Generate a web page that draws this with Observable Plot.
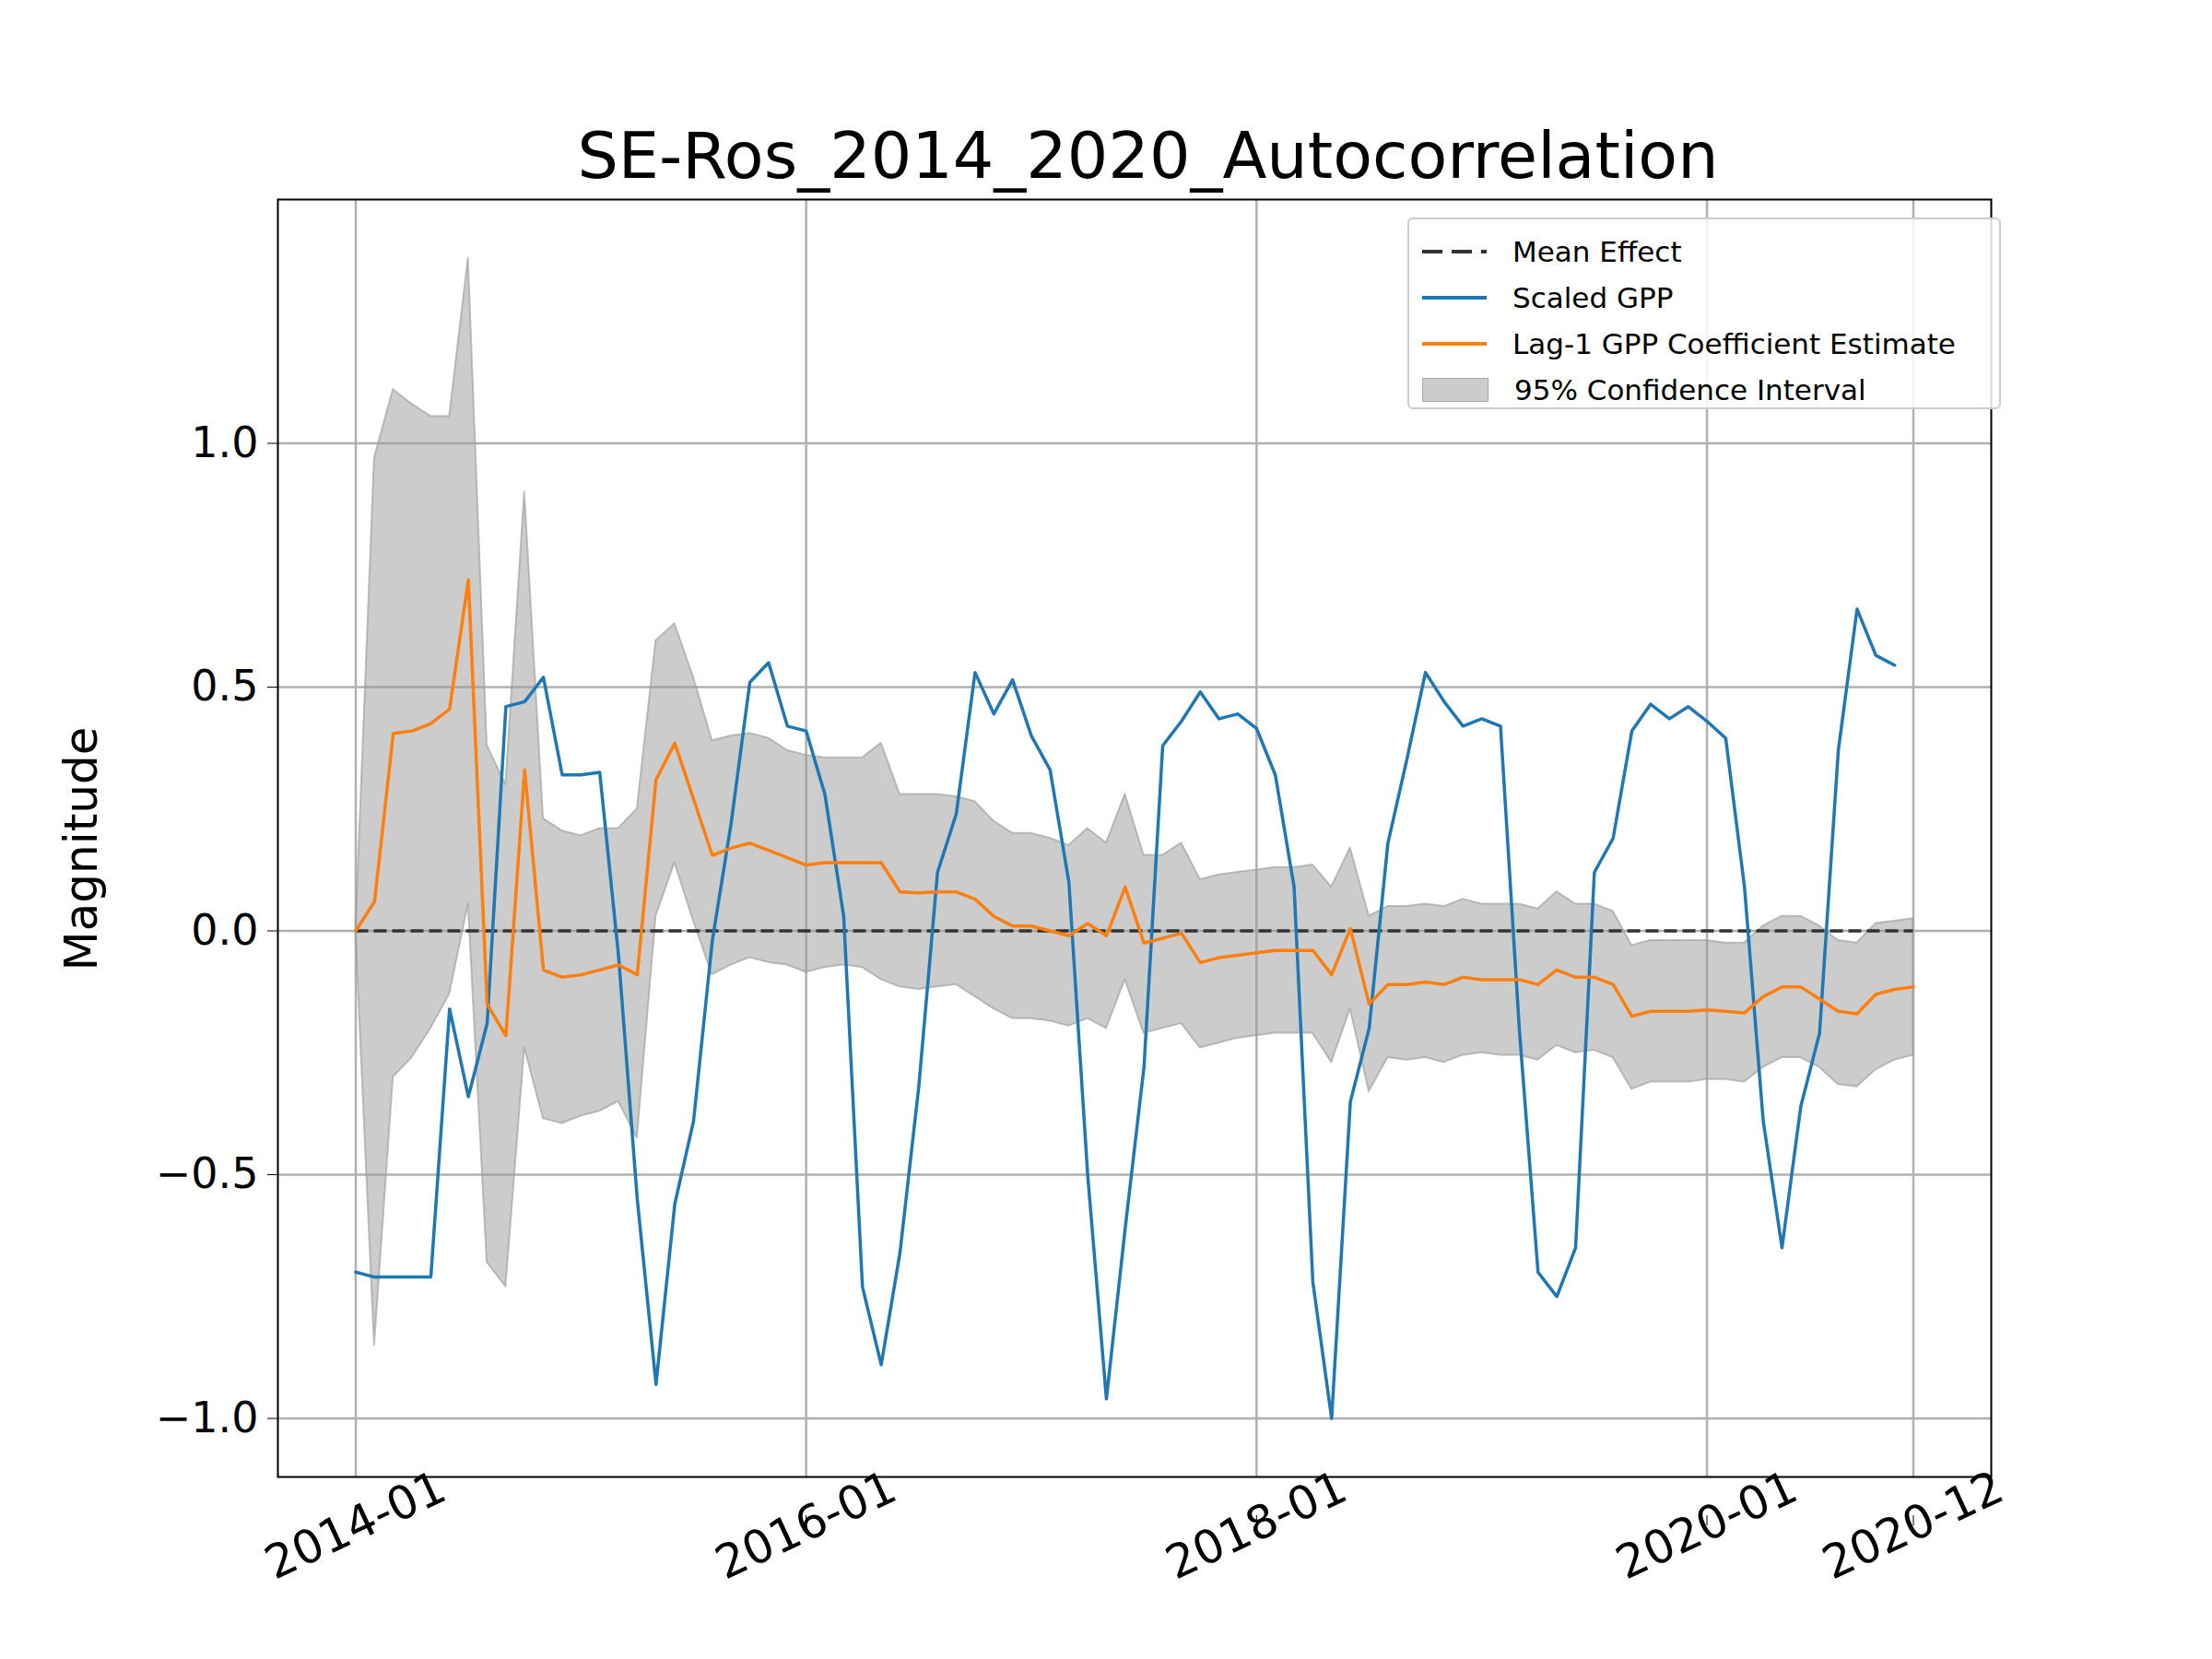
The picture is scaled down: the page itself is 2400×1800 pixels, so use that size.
<!DOCTYPE html>
<html><head><meta charset="utf-8">
<script src="https://cdn.jsdelivr.net/npm/d3@7"></script>
<script src="https://cdn.jsdelivr.net/npm/@observablehq/plot@0.6"></script>
<style>
body{margin:0;background:#fff;font-family:"DejaVu Sans",sans-serif}
#wrap{position:relative;width:2400px;height:1800px}
#title{position:absolute;top:128px;left:301px;width:1889px;text-align:center;font-size:70px}
#ylab{position:absolute;left:88px;top:921px;transform:translate(-50%,-50%) rotate(-90deg);font-size:50px;white-space:nowrap}
#legend{position:absolute;left:1527px;top:236px;width:644px;height:208px;border:2px solid #ccc;border-radius:6px;background:rgba(255,255,255,.85);font-size:31px;box-sizing:border-box;padding:10px 14px}
#legend div{display:flex;align-items:center;height:50px}
#legend span.k{display:inline-block;width:70px;margin-right:28px}
</style></head><body>
<div id="wrap"><div id="chart"></div>
<div id="title">SE-Ros_2014_2020_Autocorrelation</div>
<div id="ylab">Magnitude</div>
<div id="legend">
<div><span class="k" style="height:4px;background:repeating-linear-gradient(90deg,#333 0 22px,transparent 22px 32px)"></span>Mean Effect</div>
<div><span class="k" style="border-top:4px solid #1f77b4"></span>Scaled GPP</div>
<div><span class="k" style="border-top:4px solid #ff7f0e"></span>Lag-1 GPP Coefficient Estimate</div>
<div><span class="k" style="height:24px;background:#cccccc;border:1px solid #aaa"></span>95% Confidence Interval</div>
</div></div>
<script>
const tickMonths = [0, 24, 48, 72, 83];
const tickLabels = ["2014-01", "2016-01", "2018-01", "2020-01", "2020-12"];

const scaledGPP = [-0.70,-0.71,-0.71,-0.71,-0.71,-0.16,-0.34,-0.19,0.46,0.47,0.52,0.32,0.32,0.325,-0.05,-0.55,-0.93,-0.56,-0.39,-0.02,
0.22,0.51,0.55,0.42,0.41,0.28,0.03,-0.73,-0.89,-0.66,-0.32,0.12,0.24,0.53,0.445,0.515,0.40,0.33,0.10,-0.50,
-0.96,-0.61,-0.28,0.38,0.43,0.49,0.435,0.445,0.415,0.32,0.09,-0.72,-1.0,-0.35,-0.20,0.18,0.35,0.53,0.47,0.42,
0.435,0.42,-0.20,-0.70,-0.75,-0.65,0.12,0.19,0.41,0.465,0.435,0.46,0.43,0.395,0.09,-0.39,-0.65,-0.36,-0.21,0.37,
0.66,0.565,0.545];

const coef = [0.0,0.06,0.405,0.41,0.425,0.455,0.72,-0.15,-0.215,0.33,-0.08,-0.095,-0.09,-0.08,-0.07,-0.09,0.31,0.385,0.27,0.155,
0.17,0.18,0.165,0.15,0.135,0.14,0.14,0.14,0.14,0.08,0.078,0.08,0.08,0.065,0.03,0.01,0.01,0.0,-0.01,0.015,
-0.01,0.09,-0.025,-0.015,-0.005,-0.065,-0.055,-0.05,-0.045,-0.04,-0.04,-0.04,-0.09,0.005,-0.15,-0.11,-0.11,-0.105,-0.11,-0.095,
-0.1,-0.1,-0.1,-0.11,-0.08,-0.095,-0.095,-0.11,-0.175,-0.165,-0.165,-0.165,-0.162,-0.165,-0.168,-0.135,-0.115,-0.115,-0.14,-0.165,
-0.17,-0.13,-0.12,-0.115];

const ciUpper = [0,0.97,1.11,1.08,1.055,1.055,1.38,0.38,0.30,0.9,0.23,0.205,0.195,0.21,0.21,0.25,0.595,0.63,0.52,0.39,
0.40,0.405,0.395,0.37,0.36,0.355,0.355,0.355,0.385,0.28,0.28,0.28,0.275,0.265,0.225,0.20,0.20,0.19,0.175,0.21,
0.18,0.28,0.155,0.155,0.18,0.105,0.115,0.12,0.125,0.13,0.13,0.135,0.09,0.17,0.03,0.05,0.05,0.055,0.05,0.065,
0.055,0.055,0.055,0.045,0.08,0.055,0.055,0.04,-0.03,-0.02,-0.02,-0.02,-0.02,-0.025,-0.025,0.01,0.03,0.03,0.01,-0.02,
-0.025,0.015,0.02,0.025];

const ciLower = [0,-0.85,-0.30,-0.26,-0.20,-0.13,0.055,-0.68,-0.73,-0.24,-0.385,-0.395,-0.38,-0.37,-0.35,-0.425,0.03,0.14,0.02,-0.09,
-0.07,-0.055,-0.065,-0.07,-0.085,-0.075,-0.07,-0.075,-0.10,-0.115,-0.12,-0.115,-0.11,-0.135,-0.16,-0.18,-0.18,-0.185,-0.195,-0.18,
-0.20,-0.10,-0.21,-0.20,-0.19,-0.24,-0.23,-0.22,-0.215,-0.21,-0.21,-0.21,-0.27,-0.16,-0.33,-0.26,-0.265,-0.26,-0.27,-0.255,
-0.25,-0.255,-0.255,-0.265,-0.235,-0.25,-0.245,-0.26,-0.325,-0.31,-0.31,-0.31,-0.305,-0.305,-0.31,-0.28,-0.26,-0.26,-0.28,-0.315,
-0.32,-0.285,-0.265,-0.255];

const gpp = scaledGPP.map((v, i) => ({i, v}));
const est = coef.map((v, i) => ({i, v, lo: ciLower[i], hi: ciUpper[i]}));

const chart = Plot.plot({
  width: 2400, height: 1800,
  marginTop: 216, marginBottom: 198, marginLeft: 301, marginRight: 240,
  style: {fontSize: "46px", fontFamily: "DejaVu Sans", color: "#000", overflow: "visible"},
  x: {domain: [-4.15, 87.15]},
  y: {domain: [-1.12, 1.5]},
  marks: [
    Plot.gridX(tickMonths, {stroke: "#b0b0b0", strokeOpacity: 1, strokeWidth: 2.5}),
    Plot.gridY([-1, -0.5, 0, 0.5, 1], {stroke: "#b0b0b0", strokeOpacity: 1, strokeWidth: 2.5}),
    Plot.areaY(est, {x: "i", y1: "lo", y2: "hi", fill: "#999", fillOpacity: 0.5, stroke: "#999", strokeOpacity: 0.6, strokeWidth: 2}),
    Plot.ruleY([0], {x1: 0, x2: 83, stroke: "#333", strokeWidth: 3.5, strokeDasharray: "14,6"}),
    Plot.line(gpp, {x: "i", y: "v", stroke: "#1f77b4", strokeWidth: 3.5}),
    Plot.line(est, {x: "i", y: "v", stroke: "#ff7f0e", strokeWidth: 3.5}),
    Plot.axisY({ticks: [-1, -0.5, 0, 0.5, 1], tickFormat: d => d.toFixed(1).replace("-", "−"), tickSize: 11, tickPadding: 10, label: null}),
    Plot.axisX({ticks: tickMonths, tickFormat: (d, k) => tickLabels[k], tickSize: 11, tickRotate: -25, tickPadding: 0, dy: 42, label: null, textAnchor: "middle", fontSize: 50}),
    Plot.frame({stroke: "#000", strokeWidth: 2})
  ]
});
d3.select("#chart").append(() => chart);
</script></body></html>
